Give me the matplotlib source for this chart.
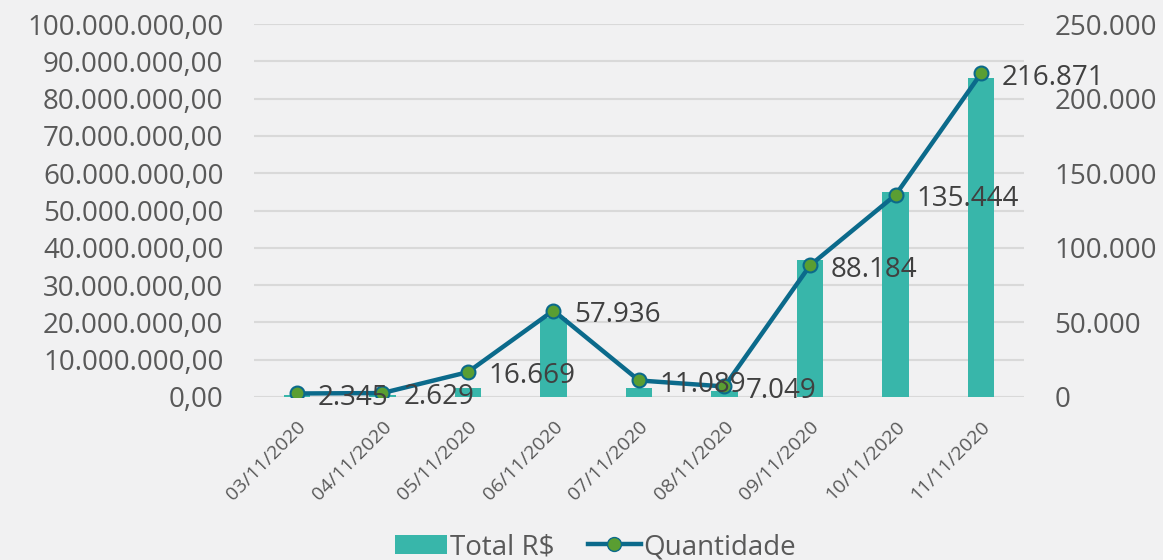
import matplotlib.pyplot as plt
from matplotlib.lines import Line2D
from matplotlib.patches import Patch
from matplotlib.ticker import FuncFormatter

plt.rcParams['font.family'] = ['Open Sans', 'DejaVu Sans']

# data
datas = ["03/11/2020", "04/11/2020", "05/11/2020", "06/11/2020", "07/11/2020",
         "08/11/2020", "09/11/2020", "10/11/2020", "11/11/2020"]
total_rs = [500000, 500000, 2500000, 21200000, 2400000, 1500000,
            36700000, 55000000, 85600000]
quantidade = [2345, 2629, 16669, 57936, 11089, 7049, 88184, 135444, 216871]

bar_color = "#38b6aa"
line_color = "#0b6a8b"
marker_color = "#5a9e32"
text_color = "#595959"


def br_num(v, dec=0):
    s = f"{v:,.{dec}f}"
    return s.replace(",", "X").replace(".", ",").replace("X", ".")


fig = plt.figure(figsize=(11.63, 5.6), dpi=100)
fig.patch.set_facecolor("#f1f1f2")
ax = fig.add_axes([0.2184, 0.2911, 0.662, 0.666])
ax.set_facecolor("none")

x = list(range(len(datas)))
ax.bar(x, total_rs, width=0.31, color=bar_color, zorder=2)
ax.set_ylim(0, 100000000)
ax.set_yticks(range(0, 100000001, 10000000))
ax.yaxis.set_major_formatter(FuncFormatter(lambda v, p: br_num(v, 2)))
ax.set_xlim(-0.5, len(datas) - 0.5)
ax.set_xticks(x)
ax.set_xticklabels(datas, rotation=45, ha="right", rotation_mode="anchor",
                   fontsize=14, color=text_color)
ax.tick_params(axis="y", length=0, pad=22, labelsize=20, labelcolor=text_color)
ax.tick_params(axis="x", length=0, pad=15)
ax.grid(axis="y", color="#d9d9d9", linewidth=1.5, zorder=0)
for s in ax.spines.values():
    s.set_visible(False)

ax2 = ax.twinx()
ax2.plot(x, quantidade, color=line_color, linewidth=3.2, marker="o",
         markersize=10, markerfacecolor=marker_color,
         markeredgecolor=line_color, markeredgewidth=1.5, zorder=3)
ax2.set_ylim(0, 250000)
ax2.set_yticks(range(0, 250001, 50000))
ax2.yaxis.set_major_formatter(FuncFormatter(lambda v, p: br_num(v)))
ax2.tick_params(axis="y", length=0, pad=22, labelsize=20, labelcolor=text_color)
for s in ax2.spines.values():
    s.set_visible(False)

for xi, q in zip(x, quantidade):
    ax2.annotate(br_num(q), (xi, q), xytext=(15, -3), textcoords="offset points",
                 ha="left", va="center", fontsize=20, color="#404040", zorder=4)

handles = [Patch(facecolor=bar_color, label="Total R$"),
           Line2D([0], [0], color=line_color, linewidth=3.2, marker="o",
                  markersize=10, markerfacecolor=marker_color,
                  markeredgecolor=line_color, label="Quantidade")]
fig.legend(handles=handles, loc="center", bbox_to_anchor=(0.512, 0.023), ncol=2,
           frameon=False, fontsize=20, labelcolor=text_color,
           handlelength=1.9, handletextpad=0.1, columnspacing=1.2)

fig.savefig("out.png", dpi=100, facecolor=fig.get_facecolor())
